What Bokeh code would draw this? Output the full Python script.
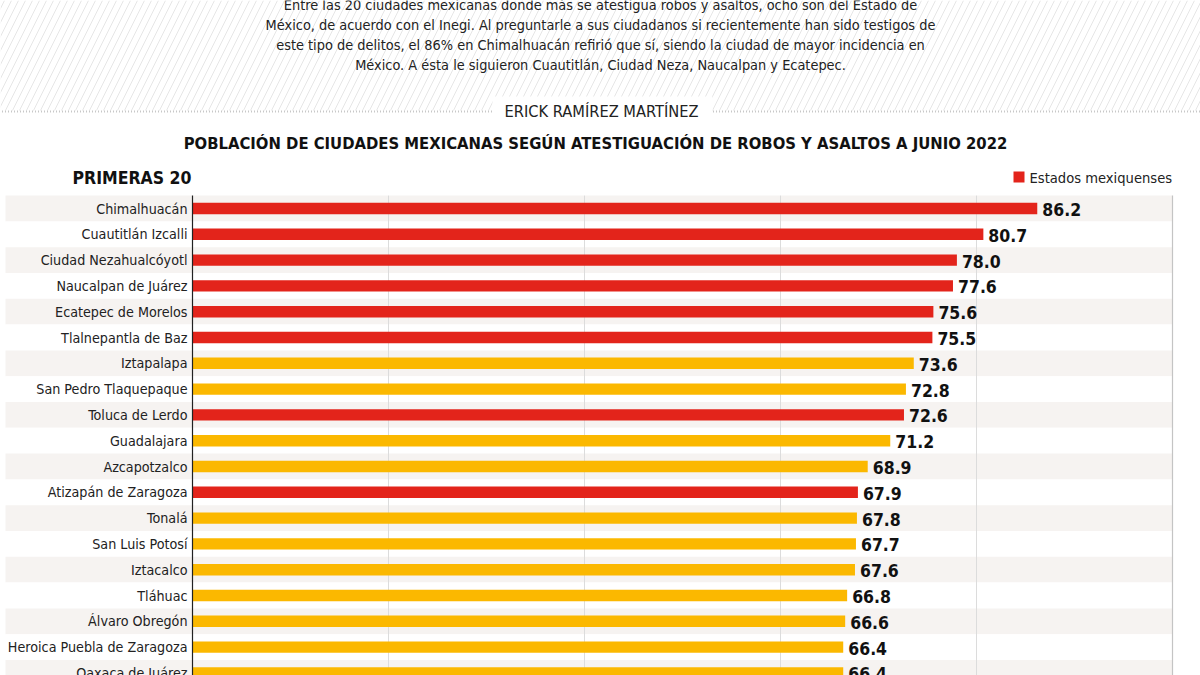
from bokeh.plotting import figure
from bokeh.models import Range1d, Label, BoxAnnotation, ColumnDataSource
from bokeh.core.properties import value
from bokeh.embed import file_html
from bokeh.resources import INLINE

# ---------------- data ----------------
cities = [
    "Chimalhuacán", "Cuautitlán Izcalli", "Ciudad Nezahualcóyotl", "Naucalpan de Juárez",
    "Ecatepec de Morelos", "Tlalnepantla de Baz", "Iztapalapa", "San Pedro Tlaquepaque",
    "Toluca de Lerdo", "Guadalajara", "Azcapotzalco", "Atizapán de Zaragoza", "Tonalá",
    "San Luis Potosí", "Iztacalco", "Tláhuac", "Álvaro Obregón",
    "Heroica Puebla de Zaragoza", "Oaxaca de Juárez",
]
values = [86.2, 80.7, 78.0, 77.6, 75.6, 75.5, 73.6, 72.8, 72.6, 71.2, 68.9, 67.9,
          67.8, 67.7, 67.6, 66.8, 66.6, 66.4, 66.4]
mexiquense = [True, True, True, True, True, True, False, False, True, False, False, True,
              False, False, False, False, False, False, False]
grid_ticks = [20, 40, 60, 80]
x_max = 100

title = "POBLACIÓN DE CIUDADES MEXICANAS SEGÚN ATESTIGUACIÓN DE ROBOS Y ASALTOS A JUNIO 2022"
subtitle = "PRIMERAS 20"
author = "ERICK RAMÍREZ MARTÍNEZ"
legend_label = "Estados mexiquenses"
paragraph = [
    "Entre las 20 ciudades mexicanas donde más se atestigua robos y asaltos, ocho son del Estado de",
    "México, de acuerdo con el Inegi. Al preguntarle a sus ciudadanos si recientemente han sido testigos de",
    "este tipo de delitos, el 86% en Chimalhuacán refirió que sí, siendo la ciudad de mayor incidencia en",
    "México. A ésta le siguieron Cuautitlán, Ciudad Neza, Naucalpan y Ecatepec.",
]

RED = "#e3241b"
YELLOW = "#fbb800"
STRIPE = "#f6f3f1"
FONT = "'DejaVu Sans Condensed', Roboto, sans-serif"

W, H = 1200, 675
X0, PXU = 192.0, 9.8          # pixel of value 0, pixels per unit
Y0, PYU = 208.0, 25.8         # pixel of first row centre, pixels per row


def sy(px):
    return H - px


idx = list(range(len(cities)))
src = ColumnDataSource(dict(
    y=idx, city=cities, v=values,
    color=[RED if m else YELLOW for m in mexiquense],
    stripe=[STRIPE if i % 2 == 0 else "#ffffff" for i in idx],
    labels=[f"{v:.1f}" for v in values],
))

p = figure(width=W, height=H, output_backend="svg", toolbar_location=None,
           min_border=0, outline_line_color=None,
           x_range=Range1d(-X0 / PXU, (W - X0) / PXU),
           y_range=Range1d((H - Y0) / PYU, -Y0 / PYU))
p.axis.visible = False
p.grid.visible = False
p.background_fill_color = "white"
p.border_fill_color = "white"


def box(l, r, t, b, **kw):
    return BoxAnnotation(left=l, right=r, top=sy(t), bottom=sy(b),
                         left_units="screen", right_units="screen",
                         top_units="screen", bottom_units="screen",
                         line_color=None, **kw)


# hatched header
p.add_layout(box(0, W, 0, 111, fill_color="white", fill_alpha=1,
                 hatch_pattern="/", hatch_color="#e6e6e6", hatch_scale=14,
                 hatch_weight=1, level="underlay"))
# dotted line with a gap for the author
for l, r in [(0, 492), (712, W)]:
    p.add_layout(box(l, r, 110, 112, fill_color="white", fill_alpha=1,
                     hatch_pattern="|", hatch_color="#c8c8c8", hatch_scale=3,
                     hatch_weight=1, level="underlay"))
p.add_layout(box(492, 712, 96, 125, fill_color="white", fill_alpha=1, level="underlay"))

# row stripes
p.hbar(y="y", height=1.0, left=(5 - X0) / PXU, right=x_max, source=src,
       fill_color="stripe", line_color=None)

# gridlines
p.segment(x0=grid_ticks, x1=grid_ticks, y0=[-0.5] * len(grid_ticks),
          y1=[len(cities) + 1] * len(grid_ticks), line_color="#dcdcdc", line_width=1)
p.segment(x0=[x_max], x1=[x_max], y0=[-0.5], y1=[len(cities) + 1],
          line_color="#c4c4c4", line_width=1.2)

# bars
p.hbar(y="y", height=0.44, left=0, right="v", source=src, fill_color="color", line_color=None)
p.segment(x0=[0], x1=[0], y0=[-0.5], y1=[len(cities) + 1], line_color="#222222", line_width=1.2)

# category labels
p.text(x=0, y="y", text="city", source=src, x_offset=-5, text_align="right",
       text_baseline="middle", text_font=value(FONT), text_font_size="14.2px",
       text_color="#222222")
# value labels
p.text(x="v", y="y", text="labels", source=src, x_offset=5, y_offset=1, text_align="left",
       text_baseline="middle", text_font=value(FONT), text_font_size="17.5px",
       text_font_style="bold", text_color="#111111")

# header texts
for k, line in enumerate(paragraph):
    p.add_layout(Label(x=600, y=sy(4 + 20.3 * k), x_units="screen", y_units="screen",
                       text=line, text_align="center", text_baseline="middle",
                       text_font=FONT, text_font_size="14.4px", text_color="#222222"))
p.add_layout(Label(x=601, y=sy(111), x_units="screen", y_units="screen", text=author,
                   text_align="center", text_baseline="middle", text_font=FONT,
                   text_font_size="16.3px", text_color="#222222"))
p.add_layout(Label(x=595, y=sy(143), x_units="screen", y_units="screen", text=title,
                   text_align="center", text_baseline="middle", text_font=FONT,
                   text_font_size="16.5px", text_font_style="bold", text_color="#111111"))
p.add_layout(Label(x=72, y=sy(177), x_units="screen", y_units="screen", text=subtitle,
                   text_align="left", text_baseline="middle", text_font=FONT,
                   text_font_size="17.5px", text_font_style="bold", text_color="#111111"))
# legend
p.add_layout(box(1013, 1024, 171, 182, fill_color=RED, fill_alpha=1))
p.add_layout(Label(x=1029, y=sy(177), x_units="screen", y_units="screen", text=legend_label,
                   text_align="left", text_baseline="middle", text_font=FONT,
                   text_font_size="14.6px", text_color="#222222"))

open("out.html", "w").write(file_html(p, INLINE))
